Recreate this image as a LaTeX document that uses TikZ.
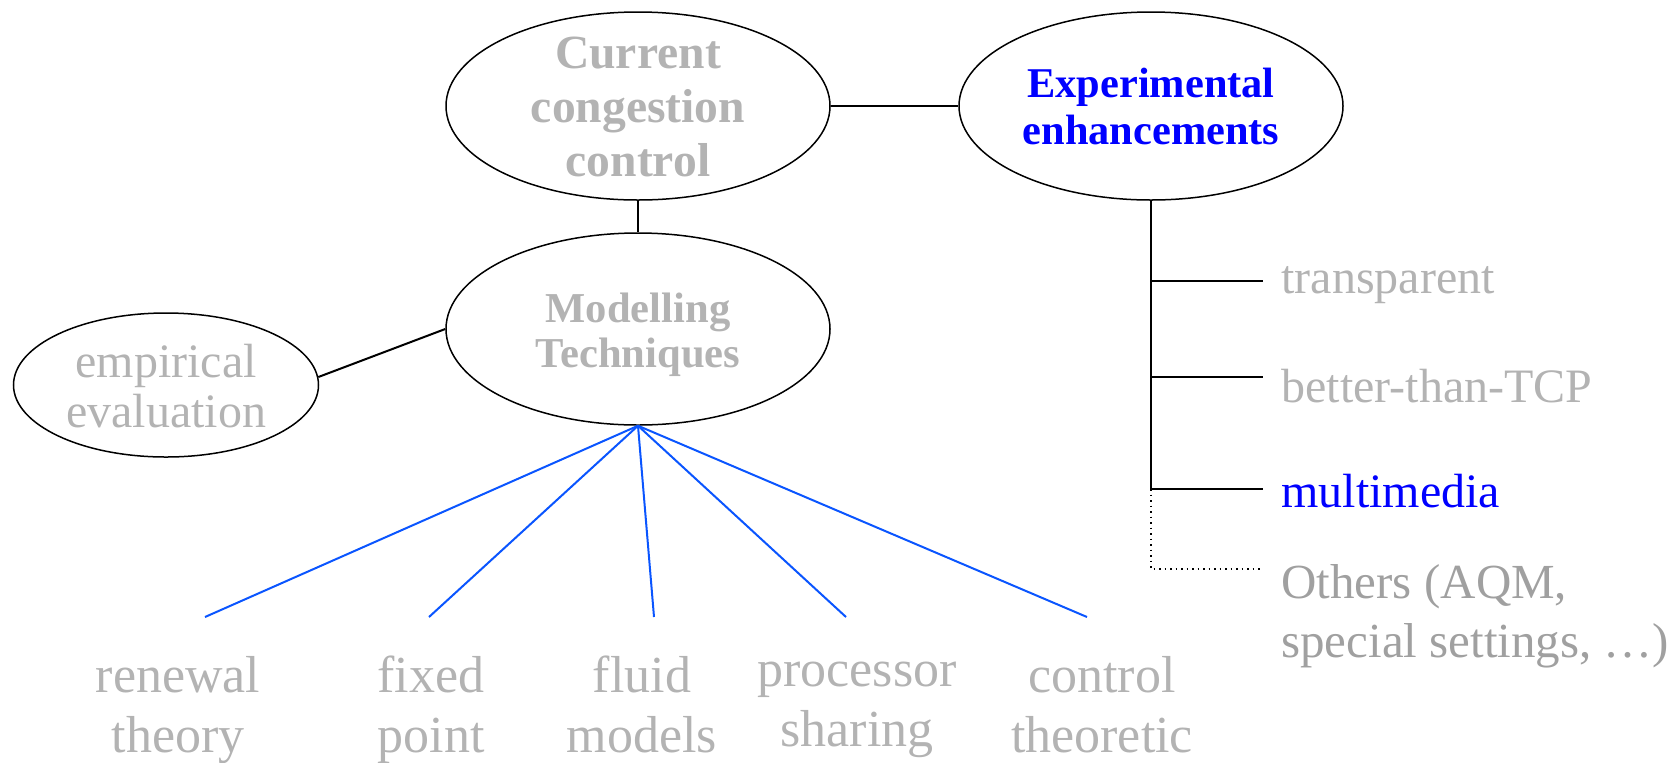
\documentclass[tikz,border=0pt]{standalone}
\usepackage{fontspec}
\setmainfont{Liberation Serif}
\usetikzlibrary{shapes.geometric}
\definecolor{MapGray}{HTML}{B3B3B3}
\definecolor{MapDark}{HTML}{A0A0A0}
\definecolor{MapBlue}{HTML}{0000FF}
\definecolor{MapLink}{HTML}{0A55FF}
\tikzset{
  topic/.style={ellipse, draw=black, line width=0.75pt, inner sep=0pt},
  leaf/.style={text=MapGray, inner sep=0pt},
  stack/.style={leaf, align=center, execute at begin node=\strut, execute at end node=\strut},
  link/.style={draw=black, line width=1pt},
  method/.style={draw=MapLink, line width=1pt},
}

\begin{document}
\begin{tikzpicture}[x=0.5pt,y=-0.5pt]
  % units are pixels of the 1669 x 762 layout
  \useasboundingbox (0,0) rectangle (1669,762);

  \node[topic, minimum width=192pt, minimum height=94pt] (cur) at (638,106) {};
  \node[topic, minimum width=192pt, minimum height=94pt] (exp) at (1151,106) {};
  \node[topic, minimum width=192pt, minimum height=96pt] (mod) at (638,329) {};
  \node[topic, minimum width=152.5pt, minimum height=72pt] (emp) at (166,385) {};

  \node[stack, font=\bfseries\fontsize{23.8}{27}\selectfont] (cur-txt) at ([yshift=-4.25pt]cur.center)
    {Current\\congestion\\control};
  \node[stack, text=MapBlue, font=\bfseries\fontsize{21.2}{23.5}\selectfont] (exp-txt) at ([yshift=-3.5pt]exp.center)
    {Experimental\\enhancements};
  \node[stack, font=\bfseries\fontsize{21.3}{22.4}\selectfont] (mod-txt) at ([yshift=-4pt]mod.center)
    {Modelling\\Techniques};
  \node[stack, font=\fontsize{24}{25.2}\selectfont] (emp-txt) at ([yshift=-4.25pt]emp.center)
    {empirical\\evaluation};

  \draw[link] (cur.east) -- (exp.west);
  \draw[link] (cur.south) -- (mod.north);
  \draw[link] (emp.3) -- (mod.west);

  % modelling techniques
  \foreach \name/\x/\tip/\txt in {ren/178/205/{renewal\\theory}, fix/431/429/{fixed\\point},
      flu/642/654/{fluid\\models}, pro/857/846/{processor\\sharing}, con/1102/1087/{control\\theoretic}}{
    \coordinate (\name-tip) at (\tip,617);
    \node[stack, font=\fontsize{26}{30}\selectfont] (\name) at (\x,713) {\txt};
    \draw[method] (mod.south) -- (\name-tip);
  }

  % experimental branches
  \foreach \n/\y in {1/281,2/377,3/489,4/569}{
    \coordinate (j\n) at (1151,\y);
    \coordinate (e\n) at (1263,\y);
  }
  \draw[link] (exp.south) -- (j3);
  \foreach \n in {1,2,3}
    \draw[link] (j\n) -- (e\n);
  \draw[black, line width=0.75pt, dotted] (j3) -- (j4) -- (e4);

  \node[leaf, anchor=base west, font=\fontsize{24}{28}\selectfont] (tra) at (1281,293) {transparent};
  \node[leaf, anchor=base west, font=\fontsize{24}{28}\selectfont] (btc) at (1281,402) {better-than-TCP};
  \node[leaf, anchor=base west, text=MapBlue, font=\fontsize{24}{28}\selectfont] (mul) at (1281,507) {multimedia};
  \node[stack, align=left, anchor=west, text=MapDark, font=\fontsize{24.5}{29.7}\selectfont] (oth) at (1281,620)
    {Others (AQM,\\special settings, …)};
\end{tikzpicture}
\end{document}
